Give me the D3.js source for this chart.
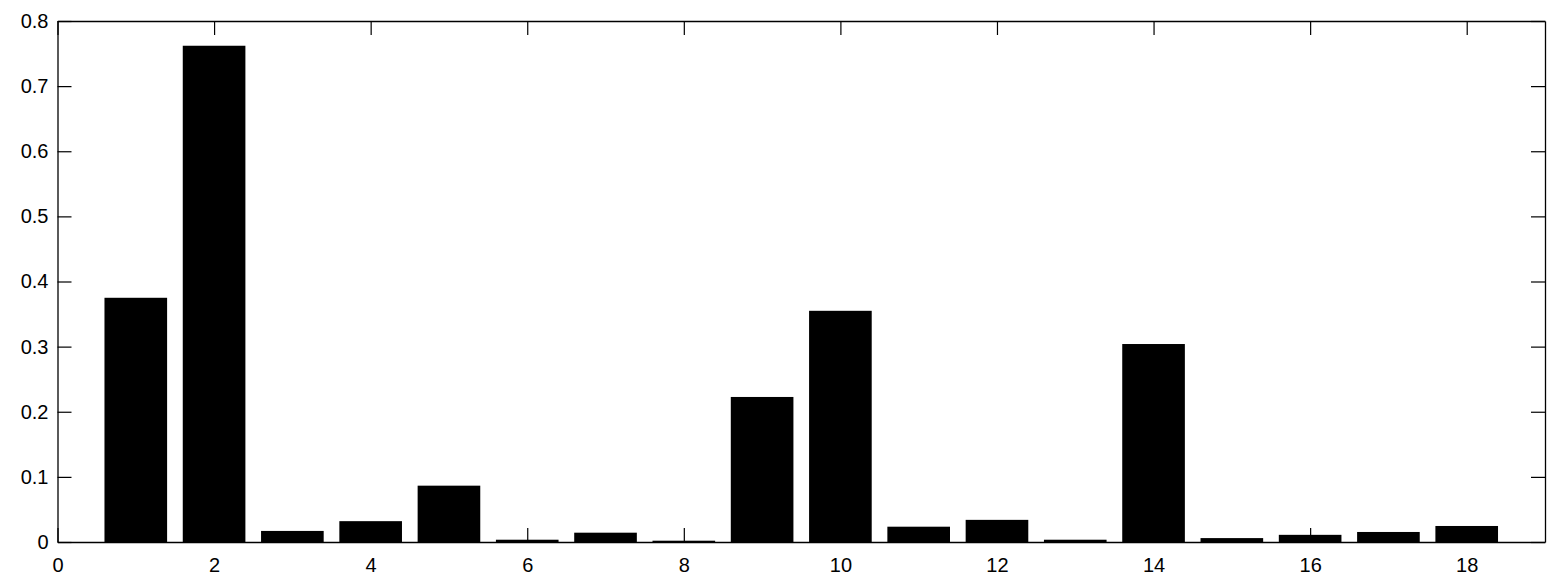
<!DOCTYPE html>
<html lang="en">
<head>
    <meta charset="UTF-8">
    <title>Bar chart</title>
    <script src="https://cdn.jsdelivr.net/npm/d3@7"></script>
    <style>
        body { margin: 0; background: #fff; }
        text { font-family: "Liberation Sans", Arial, sans-serif; }
    </style>
</head>
<body>
<div id="myDiv"></div>
<script>

    // values
    const categories = d3.range(1, 19);
    const values = [0.375, 0.762, 0.017, 0.032, 0.0865, 0.0035, 0.0143, 0.002, 0.2227,
                    0.355, 0.0235, 0.034, 0.0035, 0.304, 0.006, 0.011, 0.0154, 0.0246];
    const xTicks = [0, 2, 4, 6, 8, 10, 12, 14, 16, 18];
    const yTicks = [0, 0.1, 0.2, 0.3, 0.4, 0.5, 0.6, 0.7, 0.8];

    const width = 1563, height = 588;
    const mLeft = 57.5, mRight = 1545, mTop = 21, mBottom = 542;
    const tickLen = 14;

    const svg = d3.select("#myDiv").append("svg")
        .attr("width", width)
        .attr("height", height);

    const x = d3.scaleLinear().domain([0, 19]).range([mLeft, mRight]);
    const y = d3.scaleLinear().domain([0, 0.8]).range([mBottom, mTop]);
    const barW = x(0.8) - x(0);

    // bars
    svg.selectAll("rect.bar")
        .data(values)
        .enter()
        .append("rect")
        .attr("class", "bar")
        .attr("x", function(d, i) { return x(categories[i]) - barW / 2; })
        .attr("y", function(d) { return y(d); })
        .attr("width", barW)
        .attr("height", function(d) { return y(0) - y(d); })
        .attr("fill", "#000");

    // axes, ticks pointing inward, mirrored on top/right
    svg.append("g")
        .attr("transform", "translate(0," + mBottom + ")")
        .call(d3.axisBottom(x).tickValues(xTicks).tickSizeInner(-tickLen).tickSizeOuter(0).tickPadding(16).tickFormat(d3.format("d")));
    svg.append("g")
        .attr("transform", "translate(0," + mTop + ")")
        .call(d3.axisTop(x).tickValues(xTicks).tickSizeInner(-tickLen).tickSizeOuter(0).tickFormat(""));
    svg.append("g")
        .attr("transform", "translate(" + mLeft + ",0)")
        .call(d3.axisLeft(y).tickValues(yTicks).tickSizeInner(-tickLen).tickSizeOuter(0).tickPadding(9).tickFormat(function(d) { return d === 0 ? "0" : d3.format(".1f")(d); }));
    svg.append("g")
        .attr("transform", "translate(" + mRight + ",0)")
        .call(d3.axisRight(y).tickValues(yTicks).tickSizeInner(-tickLen).tickSizeOuter(0).tickFormat(""));

    svg.selectAll(".tick line").attr("stroke", "#000").attr("stroke-width", 1.2);
    svg.selectAll(".domain").attr("stroke", "#000").attr("stroke-width", 1.3);
    svg.selectAll(".tick text")
        .attr("fill", "#000")
        .style("font-size", "20px")
        .style("font-family", "Liberation Sans, Arial, sans-serif");

</script>
</body>
</html>
